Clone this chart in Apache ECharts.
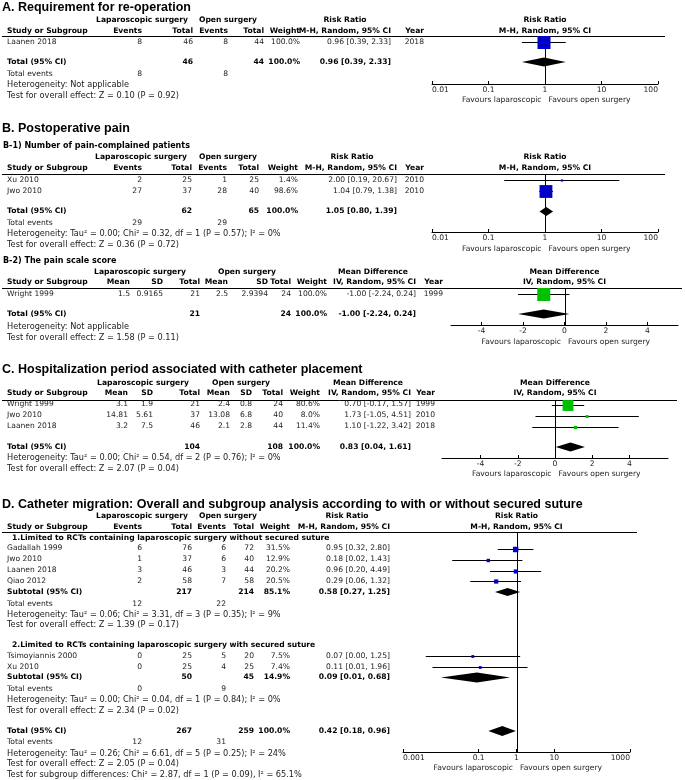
<!DOCTYPE html>
<html>
<head>
<meta charset="utf-8">
<title>Forest plots</title>
<script src="https://cdn.jsdelivr.net/npm/echarts@6.0.0/dist/echarts.min.js"></script>
<style>
  html, body { margin: 0; padding: 0; background: #fff; }
  #chart { width: 685px; height: 780px; }
</style>
</head>
<body>
<div id="chart"></div>
<script>
// ---------- A. Requirement for re-operation (risk ratio) ----------
const aStudy = ['Laanen 2018'];
const aYear = [2018];
const aLapEvents = [8];
const aLapTotal = [46];
const aOpenEvents = [8];
const aOpenTotal = [44];
const aWeight = [100.0];
const aRR = [0.96];
const aLow = [0.39];
const aHigh = [2.33];
const aPooled = [0.96, 0.39, 2.33];
const aNotes = ['Heterogeneity: Not applicable', 'Test for overall effect: Z = 0.10 (P = 0.92)'];

// ---------- B-1. Number of pain-complained patients (risk ratio) ----------
const b1Study = ['Xu 2010', 'Jwo 2010'];
const b1Year = [2010, 2010];
const b1LapEvents = [2, 27];
const b1LapTotal = [25, 37];
const b1OpenEvents = [1, 28];
const b1OpenTotal = [25, 40];
const b1Weight = [1.4, 98.6];
const b1RR = [2.00, 1.04];
const b1Low = [0.19, 0.79];
const b1High = [20.67, 1.38];
const b1Pooled = [1.05, 0.80, 1.39];
const b1Notes = ['Heterogeneity: Tau² = 0.00; Chi² = 0.32, df = 1 (P = 0.57); I² = 0%', 'Test for overall effect: Z = 0.36 (P = 0.72)'];

// ---------- B-2. Pain scale score (mean difference) ----------
const b2Study = ['Wright 1999'];
const b2Year = [1999];
const b2LapMean = [1.5];
const b2LapSD = [0.9165];
const b2LapTotal = [21];
const b2OpenMean = [2.5];
const b2OpenSD = [2.9394];
const b2OpenTotal = [24];
const b2Weight = [100.0];
const b2MD = [-1.00];
const b2Low = [-2.24];
const b2High = [0.24];
const b2Pooled = [-1.00, -2.24, 0.24];
const b2Notes = ['Heterogeneity: Not applicable', 'Test for overall effect: Z = 1.58 (P = 0.11)'];

// ---------- C. Hospitalization period (mean difference) ----------
const cStudy = ['Wright 1999', 'Jwo 2010', 'Laanen 2018'];
const cYear = [1999, 2010, 2018];
const cLapMean = [3.1, 14.81, 3.2];
const cLapSD = [1.9, 5.61, 7.5];
const cLapTotal = [21, 37, 46];
const cOpenMean = [2.4, 13.08, 2.1];
const cOpenSD = [0.8, 6.8, 2.8];
const cOpenTotal = [24, 40, 44];
const cWeight = [80.6, 8.0, 11.4];
const cMD = [0.70, 1.73, 1.10];
const cLow = [-0.17, -1.05, -1.22];
const cHigh = [1.57, 4.51, 3.42];
const cPooled = [0.83, 0.04, 1.61];
const cNotes = ['Heterogeneity: Tau² = 0.00; Chi² = 0.54, df = 2 (P = 0.76); I² = 0%', 'Test for overall effect: Z = 2.07 (P = 0.04)'];

// ---------- D. Catheter migration (risk ratio, two subgroups) ----------
const d1Study = ['Gadallah 1999', 'Jwo 2010', 'Laanen 2018', 'Qiao 2012'];
const d1LapEvents = [6, 1, 3, 2];
const d1LapTotal = [76, 37, 46, 58];
const d1OpenEvents = [6, 6, 3, 7];
const d1OpenTotal = [72, 40, 44, 58];
const d1Weight = [31.5, 12.9, 20.2, 20.5];
const d1RR = [0.95, 0.18, 0.96, 0.29];
const d1Low = [0.32, 0.02, 0.20, 0.06];
const d1High = [2.80, 1.43, 4.49, 1.32];
const d1Pooled = [0.58, 0.27, 1.25];
const d1Notes = ['Heterogeneity: Tau² = 0.06; Chi² = 3.31, df = 3 (P = 0.35); I² = 9%', 'Test for overall effect: Z = 1.39 (P = 0.17)'];

const d2Study = ['Tsimoyiannis 2000', 'Xu 2010'];
const d2LapEvents = [0, 0];
const d2LapTotal = [25, 25];
const d2OpenEvents = [5, 4];
const d2OpenTotal = [20, 25];
const d2Weight = [7.5, 7.4];
const d2RR = [0.07, 0.11];
const d2Low = [0.004, 0.006];
const d2High = [1.25, 1.96];
const d2Pooled = [0.09, 0.01, 0.68];
const d2Notes = ['Heterogeneity: Tau² = 0.00; Chi² = 0.04, df = 1 (P = 0.84); I² = 0%', 'Test for overall effect: Z = 2.34 (P = 0.02)'];

const dPooled = [0.42, 0.18, 0.96];
const dNotes = ['Heterogeneity: Tau² = 0.26; Chi² = 6.61, df = 5 (P = 0.25); I² = 24%', 'Test for overall effect: Z = 2.05 (P = 0.04)', 'Test for subgroup differences: Chi² = 2.87, df = 1 (P = 0.09), I² = 65.1%'];

const ratioTicks = [0.01, 0.1, 1, 10, 100];
const ratioTicksWide = [0.001, 0.1, 1, 10, 1000];
const diffTicks = [-4, -2, 0, 2, 4];

// ---------- helpers ----------
const FAM = '"DejaVu Sans", Verdana, sans-serif';
const SZ = 7.6;
const REG = SZ + 'px ' + FAM;
const NOTE = '8.2px ' + FAM;
const BOLD = 'bold ' + SZ + 'px ' + FAM;
const SUB = 'bold 8px ' + FAM;
const TITLE = 'bold 12.5px "Liberation Sans", Arial, sans-serif';
const BLUE = '#0000c8';
const GREEN = '#00c000';

const els = [];
function put(s, x, y, align, font) {
  els.push({
    type: 'text', x: x, y: y, silent: true,
    style: {
      legacy: false, text: String(s), font: font,
      fill: font.indexOf('bold') === 0 ? '#000' : '#222',
      align: align, verticalAlign: 'middle'
    }
  });
}
function rule(x1, x2, y) {
  els.push({
    type: 'line', silent: true,
    shape: { x1: x1, y1: y + 0.5, x2: x2, y2: y + 0.5 },
    style: { stroke: '#000', lineWidth: 1 }
  });
}
const sum = (a) => a.reduce((s, v) => s + v, 0);
const ci = (e, l, h) => e.toFixed(2) + ' [' + l.toFixed(2) + ', ' + h.toFixed(2) + ']';
const pct = (w) => w.toFixed(1) + '%';
const boxSize = (w) => 2 + 11 * w / 100;

const grids = [], xAxes = [], yAxes = [], series = [];

function renderRef(params, api) {
  const cs = params.coordSys;
  const x = Math.round(api.coord([api.value(0), api.value(1)])[0]) + 0.5;
  return { type: 'line', shape: { x1: x, y1: cs.y, x2: x, y2: cs.y + cs.height }, style: { stroke: '#000', lineWidth: 1 } };
}
function studyRenderer(color) {
  return function (params, api) {
    const p = api.coord([api.value(2), api.value(3)]);
    const y = Math.round(p[1]) + 0.5;
    const x0 = api.coord([api.value(0), api.value(3)])[0];
    const x1 = api.coord([api.value(1), api.value(3)])[0];
    const s = api.value(4);
    return {
      type: 'group', children: [
        { type: 'line', shape: { x1: x0, y1: y, x2: x1, y2: y }, style: { stroke: '#000', lineWidth: 1 } },
        { type: 'rect', shape: { x: p[0] - s / 2, y: y - s / 2, width: s, height: s }, style: { fill: color } }
      ]
    };
  };
}
function renderDiamond(params, api) {
  const p = api.coord([api.value(2), api.value(3)]);
  const x0 = api.coord([api.value(0), api.value(3)])[0];
  const x1 = api.coord([api.value(1), api.value(3)])[0];
  const h = api.value(4);
  return {
    type: 'polygon',
    shape: { points: [[x0, p[1]], [p[0], p[1] - h], [x1, p[1]], [p[0], p[1] + h]] },
    style: { fill: '#000' }
  };
}

// one forest plot = grid + axes + ref line + study marks + diamonds
function forest(L, kind, color, studyRows, diamonds) {
  const i = grids.length;
  grids.push({ left: L.left, width: L.width, top: L.top, height: L.bottom - L.top });
  const ticks = kind === 'diff' ? diffTicks : (L.wide ? ratioTicksWide : ratioTicks);
  const ax = {
    gridIndex: i, position: 'bottom',
    axisLine: { show: true, onZero: false, lineStyle: { color: '#000', width: 1 } },
    axisTick: { show: true, inside: true, length: 3, lineStyle: { color: '#000' }, customValues: ticks },
    axisLabel: {
      show: true, customValues: ticks, margin: 2, fontSize: SZ, fontFamily: FAM, color: '#222',
      formatter: (v) => String(+(+v).toPrecision(3))
    },
    splitLine: { show: false }
  };
  if (kind === 'diff') {
    Object.assign(ax, { type: 'value', min: -L.span, max: L.span });
  } else {
    Object.assign(ax, { type: 'log', logBase: 10, min: ticks[0], max: ticks[ticks.length - 1] });
    ax.axisLabel.alignMinLabel = 'left';
    ax.axisLabel.alignMaxLabel = 'right';
  }
  xAxes.push(ax);
  yAxes.push({ gridIndex: i, type: 'value', min: L.top, max: L.bottom, inverse: true, show: false });
  const ref = kind === 'diff' ? 0 : 1;
  series.push({ type: 'custom', xAxisIndex: i, yAxisIndex: i, silent: true, encode: { x: 0, y: 1 }, data: [[ref, L.top]], renderItem: renderRef });
  series.push({ type: 'custom', xAxisIndex: i, yAxisIndex: i, silent: true, encode: { x: [0, 1, 2], y: 3 }, data: studyRows, renderItem: studyRenderer(color) });
  series.push({ type: 'custom', xAxisIndex: i, yAxisIndex: i, silent: true, encode: { x: [0, 1, 2], y: 3 }, data: diamonds, renderItem: renderDiamond });
  const cx = L.left + L.width / 2;
  put(kind === 'diff' ? 'Mean Difference' : 'Risk Ratio', cx, L.hdr1, 'center', BOLD);
  put(kind === 'diff' ? 'IV, Random, 95% CI' : 'M-H, Random, 95% CI', cx, L.hdr2, 'center', BOLD);
  put('Favours laparoscopic', cx - 3.5, L.favours, 'right', REG);
  put('Favours open surgery', cx + 3.5, L.favours, 'left', REG);
}

function eventsHeader(L) {
  const c = L.cols;
  put('Laparoscopic surgery', L.lapHead, L.hdr1, 'center', BOLD);
  put('Open surgery', L.openHead, L.hdr1, 'center', BOLD);
  put('Risk Ratio', L.ciHead, L.hdr1, 'center', BOLD);
  put('Study or Subgroup', 7, L.hdr2, 'left', BOLD);
  put('Events', c.lapEv, L.hdr2, 'right', BOLD);
  put('Total', c.lapTot, L.hdr2, 'right', BOLD);
  put('Events', c.openEv, L.hdr2, 'right', BOLD);
  put('Total', c.openTot, L.hdr2, 'right', BOLD);
  put('Weight', c.weight, L.hdr2, 'right', BOLD);
  put('M-H, Random, 95% CI', c.ci, L.hdr2, 'right', BOLD);
  if (c.year) put('Year', c.year, L.hdr2, 'right', BOLD);
  rule(2, L.ruleEnd, L.top);
}
function eventsRows(c, ys, study, lapEv, lapTot, openEv, openTot, weight, est, low, high, year) {
  study.forEach((name, i) => {
    const y = ys[i];
    put(name, 7, y, 'left', REG);
    put(lapEv[i], c.lapEv, y, 'right', REG);
    put(lapTot[i], c.lapTot, y, 'right', REG);
    put(openEv[i], c.openEv, y, 'right', REG);
    put(openTot[i], c.openTot, y, 'right', REG);
    put(pct(weight[i]), c.weight, y, 'right', REG);
    put(ci(est[i], low[i], high[i]), c.ci, y, 'right', REG);
    if (year) put(year[i], c.year, y, 'right', REG);
  });
}
function eventsTotal(c, y, label, lapTot, openTot, weight, pooled) {
  put(label, 7, y, 'left', BOLD);
  put(lapTot, c.lapTot, y, 'right', BOLD);
  put(openTot, c.openTot, y, 'right', BOLD);
  put(pct(weight), c.weight, y, 'right', BOLD);
  put(ci(pooled[0], pooled[1], pooled[2]), c.ci, y, 'right', BOLD);
}
function eventsCount(c, y, lapEv, openEv) {
  put('Total events', 7, y, 'left', REG);
  put(lapEv, c.lapEv, y, 'right', REG);
  put(openEv, c.openEv, y, 'right', REG);
}
function notes(list, ys) { list.forEach((t, i) => put(t, 7, ys[i], 'left', NOTE)); }

function meanHeader(L) {
  const c = L.cols;
  put('Laparoscopic surgery', L.lapHead, L.hdr1, 'center', BOLD);
  put('Open surgery', L.openHead, L.hdr1, 'center', BOLD);
  put('Mean Difference', L.ciHead, L.hdr1, 'center', BOLD);
  put('Study or Subgroup', 7, L.hdr2, 'left', BOLD);
  put('Mean', c.lapMean, L.hdr2, 'right', BOLD);
  put('SD', c.lapSD, L.hdr2, 'right', BOLD);
  put('Total', c.lapTot, L.hdr2, 'right', BOLD);
  put('Mean', c.openMean, L.hdr2, 'right', BOLD);
  put('SD', c.openSD, L.hdr2, 'right', BOLD);
  put('Total', c.openTot, L.hdr2, 'right', BOLD);
  put('Weight', c.weight, L.hdr2, 'right', BOLD);
  put('IV, Random, 95% CI', c.ci, L.hdr2, 'right', BOLD);
  put('Year', c.year, L.hdr2, 'right', BOLD);
  rule(2, L.ruleEnd, L.top);
}
function meanRows(c, ys, study, lapMean, lapSD, lapTot, openMean, openSD, openTot, weight, est, low, high, year) {
  study.forEach((name, i) => {
    const y = ys[i];
    put(name, 7, y, 'left', REG);
    put(lapMean[i], c.lapMean, y, 'right', REG);
    put(lapSD[i], c.lapSD, y, 'right', REG);
    put(lapTot[i], c.lapTot, y, 'right', REG);
    put(openMean[i], c.openMean, y, 'right', REG);
    put(openSD[i], c.openSD, y, 'right', REG);
    put(openTot[i], c.openTot, y, 'right', REG);
    put(pct(weight[i]), c.weight, y, 'right', REG);
    put(ci(est[i], low[i], high[i]), c.ci, y, 'right', REG);
    put(year[i], c.year, y, 'right', REG);
  });
}

const studyMarks = (ys, est, low, high, weight) => est.map((e, i) => [low[i], high[i], e, ys[i], boxSize(weight[i])]);
const diamond = (pooled, y, h) => [pooled[1], pooled[2], pooled[0], y, h];

// ---------- panel A ----------
put('A. Requirement for re-operation', 2, 8, 'left', TITLE);
const LA = {
  hdr1: 20, hdr2: 31, top: 36, bottom: 84, rows: [42], total: 62, events: 74, notes: [85, 96],
  favours: 100, left: 432, width: 226, ruleEnd: 665, lapHead: 142, openHead: 228, ciHead: 345,
  cols: { lapEv: 142, lapTot: 193, openEv: 228, openTot: 264, weight: 300, ci: 391, year: 424 }
};
eventsHeader(LA);
eventsRows(LA.cols, LA.rows, aStudy, aLapEvents, aLapTotal, aOpenEvents, aOpenTotal, aWeight, aRR, aLow, aHigh, aYear);
eventsTotal(LA.cols, LA.total, 'Total (95% CI)', sum(aLapTotal), sum(aOpenTotal), sum(aWeight), aPooled);
eventsCount(LA.cols, LA.events, sum(aLapEvents), sum(aOpenEvents));
notes(aNotes, LA.notes);
forest(LA, 'ratio', BLUE, studyMarks(LA.rows, aRR, aLow, aHigh, aWeight), [diamond(aPooled, LA.total, 4.5)]);

// ---------- panel B ----------
put('B. Postoperative pain', 2, 129, 'left', TITLE);
put('B-1) Number of pain-complained patients', 3, 146, 'left', SUB);
const LB1 = {
  hdr1: 157.5, hdr2: 168, top: 174, bottom: 232, rows: [180, 191], total: 211.5, events: 223, notes: [234, 245],
  favours: 249, left: 432, width: 226, ruleEnd: 665, lapHead: 141, openHead: 228, ciHead: 352,
  cols: { lapEv: 142, lapTot: 192, openEv: 227, openTot: 259, weight: 298, ci: 397, year: 424 }
};
eventsHeader(LB1);
eventsRows(LB1.cols, LB1.rows, b1Study, b1LapEvents, b1LapTotal, b1OpenEvents, b1OpenTotal, b1Weight, b1RR, b1Low, b1High, b1Year);
eventsTotal(LB1.cols, LB1.total, 'Total (95% CI)', sum(b1LapTotal), sum(b1OpenTotal), sum(b1Weight), b1Pooled);
eventsCount(LB1.cols, LB1.events, sum(b1LapEvents), sum(b1OpenEvents));
notes(b1Notes, LB1.notes);
forest(LB1, 'ratio', BLUE, studyMarks(LB1.rows, b1RR, b1Low, b1High, b1Weight), [diamond(b1Pooled, LB1.total, 4.5)]);

put('B-2) The pain scale score', 3, 261, 'left', SUB);
const LB2 = {
  hdr1: 272, hdr2: 282, top: 288, bottom: 325, rows: [294], total: 314, notes: [327, 338],
  favours: 342, left: 451, width: 227, span: 5.47, ruleEnd: 682, lapHead: 140, openHead: 247, ciHead: 373,
  cols: { lapMean: 130, lapSD: 163, lapTot: 200, openMean: 228, openSD: 268, openTot: 291, weight: 327, ci: 416, year: 443 }
};
meanHeader(LB2);
meanRows(LB2.cols, LB2.rows, b2Study, b2LapMean, b2LapSD, b2LapTotal, b2OpenMean, b2OpenSD, b2OpenTotal, b2Weight, b2MD, b2Low, b2High, b2Year);
eventsTotal(LB2.cols, LB2.total, 'Total (95% CI)', sum(b2LapTotal), sum(b2OpenTotal), sum(b2Weight), b2Pooled);
notes(b2Notes, LB2.notes);
forest(LB2, 'diff', GREEN, studyMarks(LB2.rows, b2MD, b2Low, b2High, b2Weight), [diamond(b2Pooled, LB2.total, 4.5)]);

// ---------- panel C ----------
put('C. Hospitalization period associated with catheter placement', 2, 370, 'left', TITLE);
const LC = {
  hdr1: 383.5, hdr2: 393.5, top: 400, bottom: 458, rows: [404.5, 415.5, 426.5], total: 447, notes: [458, 469],
  favours: 474, left: 442, width: 226, span: 6.08, ruleEnd: 677, lapHead: 143, openHead: 241, ciHead: 368,
  cols: { lapMean: 128, lapSD: 153, lapTot: 200, openMean: 230, openSD: 252, openTot: 283, weight: 320, ci: 411, year: 435 }
};
meanHeader(LC);
meanRows(LC.cols, LC.rows, cStudy, cLapMean, cLapSD, cLapTotal, cOpenMean, cOpenSD, cOpenTotal, cWeight, cMD, cLow, cHigh, cYear);
eventsTotal(LC.cols, LC.total, 'Total (95% CI)', sum(cLapTotal), sum(cOpenTotal), sum(cWeight), cPooled);
notes(cNotes, LC.notes);
forest(LC, 'diff', GREEN, studyMarks(LC.rows, cMD, cLow, cHigh, cWeight), [diamond(cPooled, LC.total, 4.5)]);

// ---------- panel D ----------
put('D. Catheter migration: Overall and subgroup analysis according to with or without secured suture', 2, 505, 'left', TITLE);
const LD = {
  hdr1: 516.5, hdr2: 527, top: 532, bottom: 752, favours: 768, left: 403, width: 227, wide: true,
  ruleEnd: 637, lapHead: 142, openHead: 228, ciHead: 347,
  sub1: 538, rows1: [548.5, 559.5, 570.5, 581], subtotal1: 592, events1: 604, notes1: [614.5, 625],
  sub2: 645.5, rows2: [656, 667], subtotal2: 677.5, events2: 689, notes2: [700, 711],
  total: 731, events: 742.5, notes: [753.5, 764, 775],
  cols: { lapEv: 142, lapTot: 192, openEv: 226, openTot: 254, weight: 290, ci: 390 }
};
eventsHeader(LD);
put('1.Limited to RCTs containing laparoscopic surgery without secured suture', 12, LD.sub1, 'left', BOLD);
eventsRows(LD.cols, LD.rows1, d1Study, d1LapEvents, d1LapTotal, d1OpenEvents, d1OpenTotal, d1Weight, d1RR, d1Low, d1High, null);
eventsTotal(LD.cols, LD.subtotal1, 'Subtotal (95% CI)', sum(d1LapTotal), sum(d1OpenTotal), sum(d1Weight), d1Pooled);
eventsCount(LD.cols, LD.events1, sum(d1LapEvents), sum(d1OpenEvents));
notes(d1Notes, LD.notes1);
put('2.Limited to RCTs containing laparoscopic surgery with secured suture', 12, LD.sub2, 'left', BOLD);
eventsRows(LD.cols, LD.rows2, d2Study, d2LapEvents, d2LapTotal, d2OpenEvents, d2OpenTotal, d2Weight, d2RR, d2Low, d2High, null);
eventsTotal(LD.cols, LD.subtotal2, 'Subtotal (95% CI)', sum(d2LapTotal), sum(d2OpenTotal), sum(d2Weight), d2Pooled);
eventsCount(LD.cols, LD.events2, sum(d2LapEvents), sum(d2OpenEvents));
notes(d2Notes, LD.notes2);
eventsTotal(LD.cols, LD.total, 'Total (95% CI)', sum(d1LapTotal) + sum(d2LapTotal), sum(d1OpenTotal) + sum(d2OpenTotal), sum(d1Weight) + sum(d2Weight), dPooled);
eventsCount(LD.cols, LD.events, sum(d1LapEvents) + sum(d2LapEvents), sum(d1OpenEvents) + sum(d2OpenEvents));
notes(dNotes, LD.notes);
forest(LD, 'ratio', BLUE,
  studyMarks(LD.rows1, d1RR, d1Low, d1High, d1Weight).concat(studyMarks(LD.rows2, d2RR, d2Low, d2High, d2Weight)),
  [diamond(d1Pooled, LD.subtotal1, 4), diamond(d2Pooled, LD.subtotal2, 5), diamond(dPooled, LD.total, 5)]);

const chart = echarts.init(document.getElementById('chart'));
chart.setOption({
  animation: false,
  backgroundColor: '#fff',
  grid: grids,
  xAxis: xAxes,
  yAxis: yAxes,
  series: series,
  graphic: { elements: els }
});
</script>
</body>
</html>
